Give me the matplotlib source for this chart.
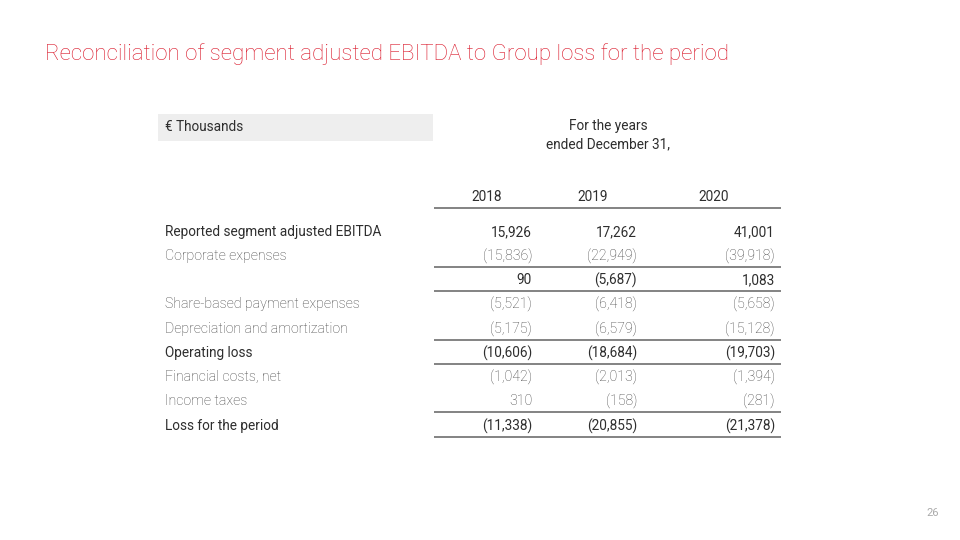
import matplotlib.pyplot as plt

# table content
title = "Reconciliation of segment adjusted EBITDA to Group loss for the period"
unit_label = "€ Thousands"
period_label = "For the years\nended December 31,"
years = ["2018", "2019", "2020"]

row_labels = [
    "Reported segment adjusted EBITDA",
    "Corporate expenses",
    "",
    "Share-based payment expenses",
    "Depreciation and amortization",
    "Operating loss",
    "Financial costs, net",
    "Income taxes",
    "Loss for the period",
]
vals_2018 = ["15,926", "(15,836)", "90", "(5,521)", "(5,175)", "(10,606)", "(1,042)", "310", "(11,338)"]
vals_2019 = ["17,262", "(22,949)", "(5,687)", "(6,418)", "(6,579)", "(18,684)", "(2,013)", "(158)", "(20,855)"]
vals_2020 = ["41,001", "(39,918)", "1,083", "(5,658)", "(15,128)", "(19,703)", "(1,394)", "(281)", "(21,378)"]
bold_rows = [True, False, True, False, False, True, False, False, True]

plt.rcParams['font.family'] = ['Roboto', 'DejaVu Sans']

fig = plt.figure(figsize=(9.6, 5.4), dpi=100)
ax = fig.add_axes([0, 0, 1, 1])
ax.set_xlim(0, 960)
ax.set_ylim(540, 0)
ax.axis('off')

red = '#da1729'
dark = '#2e2e2e'
light = '#444444'
fs_dark = 9.8
fs_light = 10.2

ax.text(45, 54, title, color=red, fontsize=16, fontweight='light', va='center', ha='left')

# header
ax.add_patch(plt.Rectangle((158, 114), 275, 27, color='#eeeeee', lw=0))
ax.text(165, 127, unit_label, color=dark, fontsize=fs_dark, va='center')
ax.text(608, 135, period_label, color=dark, fontsize=fs_dark,
        va='center', ha='center', linespacing=1.35)

year_x = [487, 593, 714]
for x, y in zip(year_x, years):
    ax.text(x, 197, y, color=dark, fontsize=fs_dark, va='center', ha='center')

col_right = [532, 637, 775]
row_y = [232, 256, 280, 304, 329, 353, 377, 401, 426]
cols = [vals_2018, vals_2019, vals_2020]

for i, (lab, y) in enumerate(zip(row_labels, row_y)):
    if bold_rows[i]:
        kw = dict(color=dark, fontsize=fs_dark, fontweight='normal')
    else:
        kw = dict(color=light, fontsize=fs_light, fontweight='light')
    ax.text(165, y, lab, va='center', **kw)
    for xr, col in zip(col_right, cols):
        ax.text(xr, y, col[i], va='center', ha='right', **kw)

for ly in [208, 267, 291, 340, 364, 412, 437]:
    ax.plot([434, 781], [ly, ly], color='#6e6e6e', lw=1.2, solid_capstyle='butt')

ax.text(933, 513, "26", color='#aaaaaa', fontsize=8, va='center', ha='center')

fig.savefig('out.png', dpi=100)
